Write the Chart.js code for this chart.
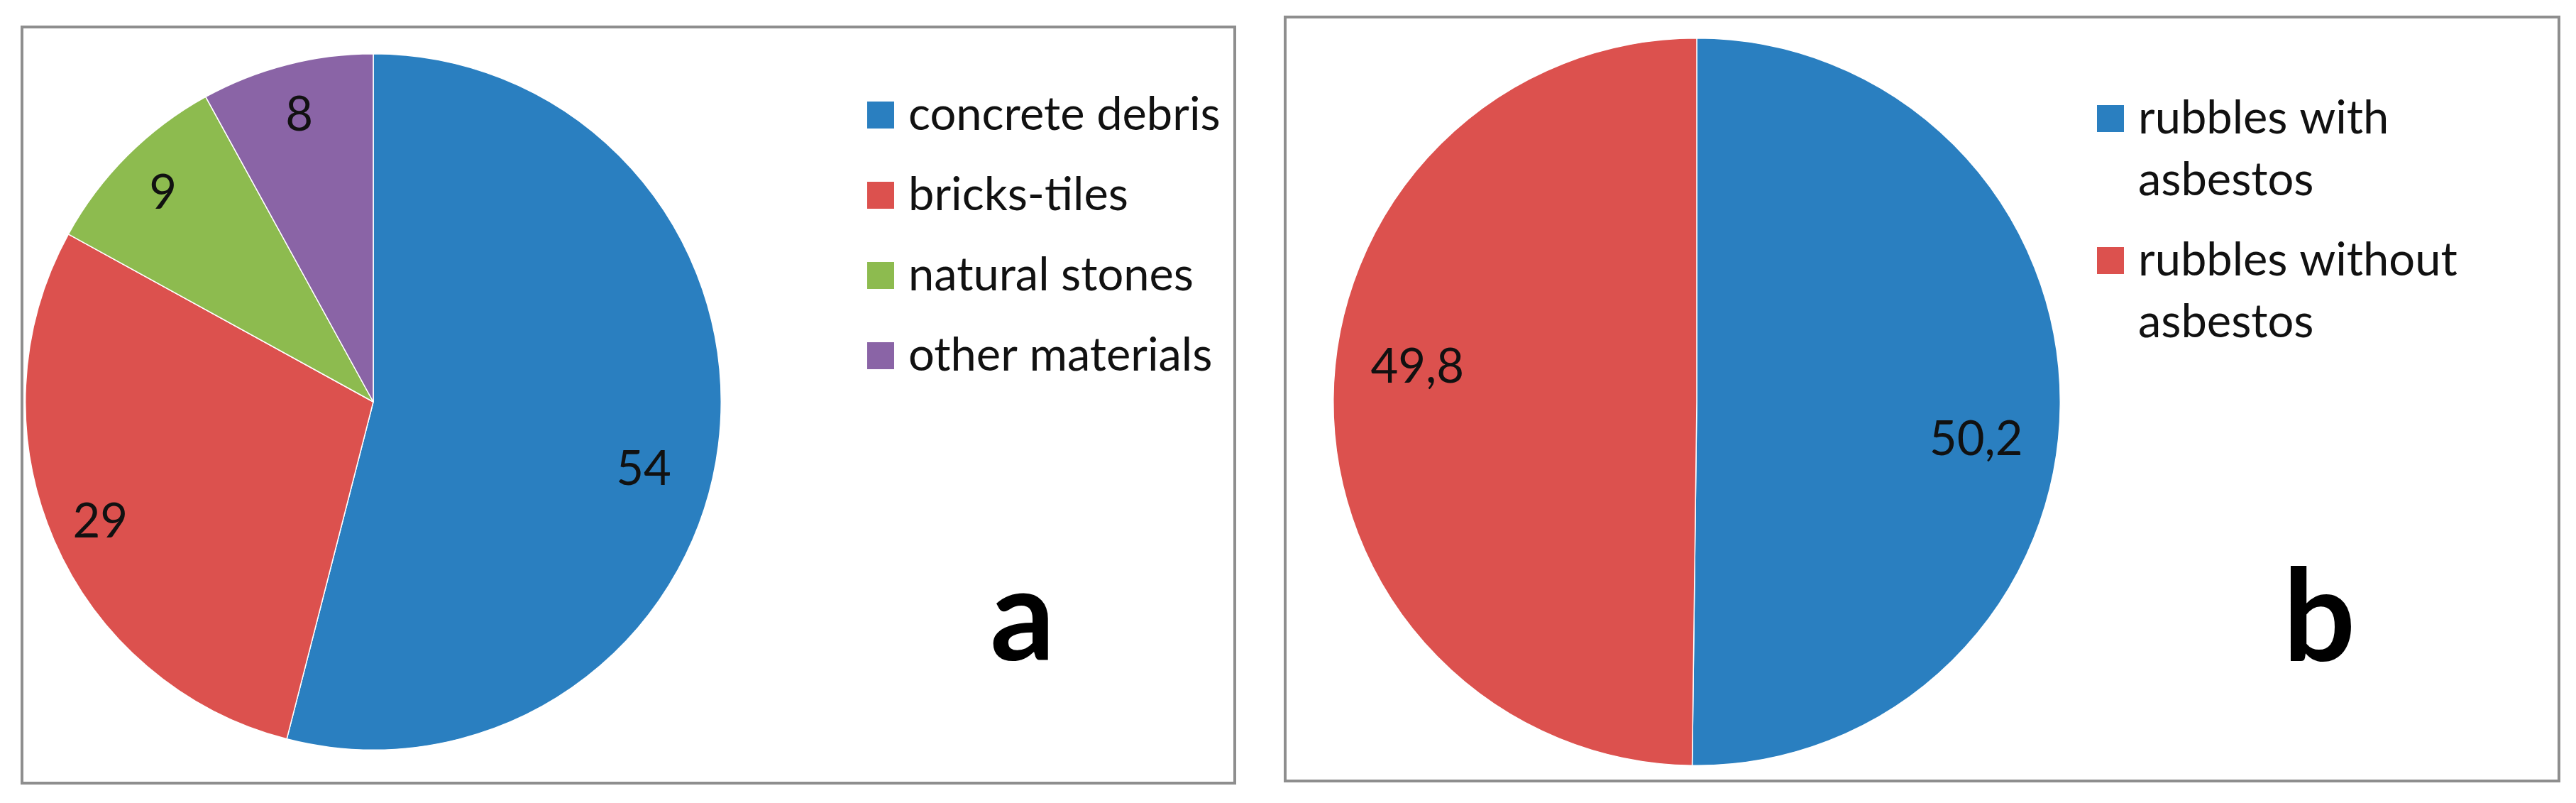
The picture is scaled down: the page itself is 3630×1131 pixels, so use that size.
<!DOCTYPE html>
<html>
<head>
<meta charset="utf-8">
<script src="https://cdn.jsdelivr.net/npm/chart.js@4.4.0/dist/chart.umd.min.js"></script>
<style>
  html, body { margin: 0; padding: 0; background: #fff; }
  body { width: 3630px; height: 1131px; position: relative; overflow: hidden; }
  .panel { position: absolute; box-sizing: border-box; border: 4px solid #8e8e8e; background: #fff; }
  .panel canvas { display: block; }
</style>
</head>
<body>
<div class="panel" id="panelA" style="left:29px; top:36px; width:1713px; height:1069px;">
  <canvas id="chartA" width="1705" height="1061"></canvas>
</div>
<div class="panel" id="panelB" style="left:1809px; top:22px; width:1799px; height:1080px;">
  <canvas id="chartB" width="1791" height="1072"></canvas>
</div>
<script>
// panel a: composition of the rubble
const materials = ['concrete debris', 'bricks-tiles', 'natural stones', 'other materials'];
const materialShares = [54, 29, 9, 8];
const materialColors = ['#2a7fc0', '#dc514e', '#8dbb4f', '#8a64a6'];

// panel b: asbestos
const asbestosGroups = ['rubbles with asbestos', 'rubbles without asbestos'];
const asbestosShares = [50.2, 49.8];
const asbestosColors = ['#2a7fc0', '#dc514e'];

const FONT = 'Lato, "Open Sans", sans-serif';

function wrapWords(ctx, text, maxWidth) {
  const words = text.split(' ');
  const lines = [];
  let line = '';
  words.forEach(w => {
    const test = line ? line + ' ' + w : w;
    if (line && ctx.measureText(test).width > maxWidth) {
      lines.push(line);
      line = w;
    } else {
      line = test;
    }
  });
  if (line) lines.push(line);
  return lines;
}

// value labels, side legend and the panel letter
const panelDeco = {
  id: 'panelDeco',
  afterDatasetsDraw(chart, args, opts) {
    const ctx = chart.ctx;
    const meta = chart.getDatasetMeta(0);
    const ds = chart.data.datasets[0];
    ctx.save();

    // labels: big slices sit a bit further round (like Excel best fit)
    ctx.font = opts.valueSize + 'px ' + FONT;
    ctx.fillStyle = '#111';
    ctx.textAlign = 'center';
    ctx.textBaseline = 'alphabetic';
    const digitHalf = opts.valueSize * 0.36;
    meta.data.forEach((arc, i) => {
      const p = arc.getProps(['x', 'y', 'startAngle', 'endAngle', 'outerRadius'], true);
      const span = p.endAngle - p.startAngle;
      const big = span > Math.PI * 0.8;
      const mid = (p.startAngle + p.endAngle) / 2 + (big ? opts.bigShift * Math.PI / 180 : 0);
      const f = big ? opts.bigFrac : opts.smallFrac;
      const txt = String(ds.data[i]).replace('.', ',');
      ctx.fillText(txt, p.x + Math.cos(mid) * p.outerRadius * f,
                        p.y + Math.sin(mid) * p.outerRadius * f + digitHalf);
    });

    // legend
    const lg = opts.legend;
    ctx.font = lg.size + 'px ' + FONT;
    ctx.textAlign = 'left';
    ctx.textBaseline = 'middle';
    let y = lg.y;
    chart.data.labels.forEach((lab, i) => {
      ctx.fillStyle = ds.backgroundColor[i];
      ctx.fillRect(lg.x, y - lg.box / 2, lg.box, lg.box);
      ctx.fillStyle = '#111';
      const lines = wrapWords(ctx, lab, lg.maxWidth);
      lines.forEach((ln, k) => ctx.fillText(ln, lg.x + lg.textGap, y + k * lg.lineHeight));
      y += lines.length * lg.lineHeight + lg.itemGap;
    });

    // big letter
    ctx.font = 'bold ' + opts.letterSize + 'px ' + FONT;
    ctx.textAlign = 'center';
    ctx.textBaseline = 'alphabetic';
    ctx.fillStyle = '#000';
    ctx.fillText(opts.letter, opts.letterX, opts.letterY);
    ctx.restore();
  }
};

function makePie(id, labels, values, colors, padding, deco) {
  return new Chart(document.getElementById(id), {
    type: 'pie',
    data: {
      labels: labels,
      datasets: [{
        data: values,
        backgroundColor: colors,
        borderColor: '#ffffff',
        borderWidth: 1.5
      }]
    },
    options: {
      responsive: false,
      animation: false,
      layout: { padding: padding },
      plugins: {
        legend: { display: false },
        tooltip: { enabled: false },
        panelDeco: deco
      }
    },
    plugins: [panelDeco]
  });
}

makePie('chartA', materials, materialShares, materialColors,
  { left: 2, top: 35, right: 721, bottom: 44 },
  {
    valueSize: 67, bigFrac: 0.8, bigShift: 6.5, smallFrac: 0.855,
    legend: { x: 1189, y: 122, box: 38, textGap: 58, size: 65, lineHeight: 87, itemGap: 26, maxWidth: 500 },
    letter: 'a', letterSize: 180, letterX: 1408, letterY: 890
  });

makePie('chartB', asbestosGroups, asbestosShares, asbestosColors,
  { left: 65, top: 27, right: 700, bottom: 19 },
  {
    valueSize: 67, bigFrac: 0.775, bigShift: 7, smallFrac: 0.855,
    legend: { x: 1142, y: 141, box: 38, textGap: 58, size: 65, lineHeight: 87, itemGap: 26, maxWidth: 500 },
    letter: 'b', letterSize: 180, letterX: 1455, letterY: 905
  });
</script>
</body>
</html>
